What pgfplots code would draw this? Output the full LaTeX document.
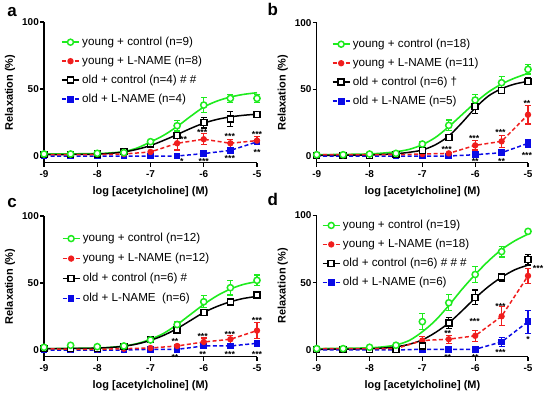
\documentclass[border=0pt]{standalone}
\usepackage{fontspec}
\setmainfont{Liberation Sans}
\usepackage{pgfplots}
\pgfplotsset{compat=1.18}
\definecolor{cg}{RGB}{30,235,30}
\definecolor{cr}{RGB}{240,30,30}
\definecolor{cb}{RGB}{10,10,230}
\tikzset{st/.style={font=\bfseries\fontsize{8.8}{9}\selectfont, inner sep=0pt, anchor=base, yshift=-5bp},
  plab/.style={font=\bfseries\fontsize{17}{19}\selectfont, inner sep=0pt, anchor=base}}
\pgfplotsset{
 panel/.style={
  scale only axis, width=213bp, height=140.7bp,
  xmin=-9, xmax=-5, ymin=-5, ymax=100,
  axis x line*=bottom, axis y line*=left,
  axis line style={line width=1.2bp, -},
  xtick={-9,-8,-7,-6,-5}, xticklabels={-9,-8,-7,-6,-5},
  ytick={0,50,100}, yticklabels={0,50,100},
  minor tick num=0,
  tick align=outside, major tick length=4bp,
  tick style={line width=1.2bp, black},
  ticklabel style={font=\bfseries\fontsize{10}{12}\selectfont},
  xticklabel style={inner sep=1bp, yshift=-3bp},
  yticklabel style={inner sep=1bp},
  xlabel={log [acetylcholine] (M)}, ylabel={Relaxation (\%)},
  label style={font=\bfseries\fontsize{11}{13}\selectfont},
  xlabel style={at={(rel axis cs:0.5,0)}, anchor=center, yshift=-29bp},
  ylabel style={at={(rel axis cs:0,0.5)}, anchor=center, yshift=34bp},
  clip=false,
  legend style={draw=none, fill=none, font=\fontsize{11.7}{13}\selectfont, anchor=north west, inner sep=0pt, row sep=8bp,
    nodes={inner ysep=0pt, inner xsep=2.5bp, text height=8.5bp, text depth=2.5bp}},
  legend cell align=left,
 },
 gc/.style={forget plot, only marks, mark=*, mark size=3.1bp, mark options={draw=cg, fill=white, line width=1.5bp},
   error bars/.cd, y dir=both, y explicit, error bar style={cg, line width=1.2bp}, error mark options={rotate=90, mark size=3bp, cg, line width=1.2bp}},
 bc/.style={forget plot, only marks, mark=square*, mark size=3bp, mark options={draw=black, fill=white, line width=1.5bp},
   error bars/.cd, y dir=both, y explicit, error bar style={black, line width=1.2bp}, error mark options={rotate=90, mark size=3bp, black, line width=1.2bp}},
 rl/.style={forget plot, cr, line width=1.5bp, dash pattern=on 4bp off 2.5bp, mark=*, mark size=2.4bp, mark options={solid, fill=cr, draw=cr},
   error bars/.cd, y dir=both, y explicit, error bar style={cr, solid, line width=1.2bp}, error mark options={rotate=90, mark size=3bp, cr, solid, line width=1.2bp}},
 bl/.style={forget plot, cb, line width=1.5bp, dash pattern=on 4bp off 2.5bp, mark=square*, mark size=2.6bp, mark options={solid, fill=cb, draw=cb},
   error bars/.cd, y dir=both, y explicit, error bar style={cb, solid, line width=1.2bp}, error mark options={rotate=90, mark size=3bp, cb, solid, line width=1.2bp}},
 gcurve/.style={forget plot, cg, line width=1.6bp, smooth, no markers},
 bcurve/.style={forget plot, black, line width=1.5bp, smooth, no markers},
 lg/.style={cg, line width=1.5bp, mark=*, mark size=3bp, mark options={fill=white}},
 lr/.style={cr, line width=1.5bp, dash pattern=on 4bp off 2.5bp, mark=*, mark size=2.4bp, mark options={solid, fill=cr}},
 lk/.style={black, line width=1.5bp, mark=square*, mark size=3bp, mark options={fill=white}},
 lb/.style={cb, line width=1.5bp, dash pattern=on 4bp off 2.5bp, mark=square*, mark size=2.6bp, mark options={solid, fill=cb}},
}
\begin{document}
\begin{tikzpicture}[x=1bp,y=1bp]
\useasboundingbox (0,0) rectangle (550,393);
\node[plab] at (12,376.3) {a};
\node[plab] at (272.7,378) {b};
\node[plab] at (12,186) {c};
\node[plab] at (272.7,187.3) {d};
% ---------- panel a
\begin{axis}[panel, at={(44bp,230.3bp)}, anchor=south west,
  legend style={at={(rel axis cs:0.08,0.897)}}]
\addlegendimage{lg}
\addlegendimage{lr}
\addlegendimage{lk}
\addlegendimage{lb}
\legend{young + control (n=9), young + L-NAME (n=8), old + control (n=4) \# \#, old + L-NAME (n=4)}
\addplot[gcurve] coordinates {(-9,1.5) (-8.5,1.6) (-8,1.8) (-7.75,2.3) (-7.5,3.3) (-7.25,6) (-7,10.5) (-6.75,15.5) (-6.5,22) (-6.25,29.5) (-6,36.5) (-5.75,41) (-5.5,44) (-5.25,46) (-5,47.2)};
\addplot[bcurve] coordinates {(-9,1) (-8.5,1.1) (-8,1.4) (-7.75,2) (-7.5,3) (-7.25,5) (-7,7.8) (-6.75,11.7) (-6.5,16) (-6.25,20.5) (-6,24.5) (-5.75,27.3) (-5.5,29.2) (-5.25,30.4) (-5,31.2)};
\node[st] at (axis cs:-6.41,13.7) {***};
\node[st] at (axis cs:-6.41,-2.5) {*};
\node[st] at (axis cs:-6.03,19.4) {***};
\node[st] at (axis cs:-6.0,-2.5) {***};
\node[st] at (axis cs:-5.51,15.7) {***};
\node[st] at (axis cs:-5.51,-0.5) {***};
\node[st] at (axis cs:-5.0,17.4) {***};
\node[st] at (axis cs:-5.0,4) {**};
\addplot[bl] coordinates {(-9,0) +- (0,0) (-8.5,0) +- (0,0) (-8,0) +- (0,0) (-7.5,0) +- (0,0) (-7,0) +- (0,0) (-6.5,0) +- (0,0) (-6,1.8) +- (0,0.5) (-5.5,4.2) +- (0,1) (-5,10.5) +- (0,2)};
\addplot[rl] coordinates {(-9,1) +- (0,0.3) (-8.5,1) +- (0,0.3) (-8,1) +- (0,0.3) (-7.5,1.5) +- (0,0.3) (-7,3) +- (0,0.8) (-6.5,9.5) +- (0,5) (-6,12.5) +- (0,4) (-5.5,9.5) +- (0,3) (-5,11.5) +- (0,3)};
\addplot[bc] coordinates {(-9,1) +- (0,0.3) (-8.5,1) +- (0,0.3) (-8,1.5) +- (0,0.3) (-7.5,3.2) +- (0,0.5) (-7,9) +- (0,1) (-6.5,15.4) +- (0,1.5) (-6,24.9) +- (0,4) (-5.5,27.6) +- (0,5.5) (-5,30.8) +- (0,1.5)};
\addplot[gc] coordinates {(-9,1.5) +- (0,0.5) (-8.5,1.5) +- (0,0.5) (-8,2) +- (0,0.5) (-7.5,2.5) +- (0,0.5) (-7,10.7) +- (0,1.5) (-6.5,22.6) +- (0,4) (-6,38) +- (0,5.5) (-5.5,43) +- (0,3) (-5,43) +- (0,3)};
\end{axis}
% ---------- panel b
\begin{axis}[panel, at={(316.7bp,230.3bp)}, anchor=south west, width=211.3bp, height=140bp,
  legend style={at={(rel axis cs:0.071,0.887)}}]
\addlegendimage{lg}
\addlegendimage{lr}
\addlegendimage{lk}
\addlegendimage{lb}
\legend{young + control (n=18), young + L-NAME (n=11), old + control (n=6) †, old + L-NAME (n=5)}
\addplot[gcurve] coordinates {(-9,1) (-8.5,1.2) (-8,1.6) (-7.75,2.2) (-7.5,3.2) (-7.25,5) (-7,8.5) (-6.75,14) (-6.5,22) (-6.25,31) (-6,40) (-5.75,48) (-5.5,54) (-5.25,58.5) (-5,62)};
\addplot[bcurve] coordinates {(-9,0.5) (-8.5,0.6) (-8,0.8) (-7.75,1.2) (-7.5,1.7) (-7.25,2.8) (-7,4.5) (-6.75,8.5) (-6.5,15) (-6.25,25) (-6,36) (-5.75,45) (-5.5,50.5) (-5.25,54) (-5,56)};
\node[st] at (axis cs:-6.54,6.25) {***};
\node[st] at (axis cs:-6.02,14.5) {***};
\node[st] at (axis cs:-6.0,-2.5) {**};
\node[st] at (axis cs:-5.52,19.5) {***};
\node[st] at (axis cs:-5.5,-2.5) {**};
\node[st] at (axis cs:-5.02,41) {**};
\node[st] at (axis cs:-5.02,2) {***};
\addplot[bl] coordinates {(-9,0) +- (0,0) (-8.5,0) +- (0,0) (-8,0) +- (0,0) (-7.5,0) +- (0,0) (-7,0) +- (0,0) (-6.5,0) +- (0,0) (-6,1) +- (0,0.5) (-5.5,2.5) +- (0,0.8) (-5,9.5) +- (0,3)};
\addplot[rl] coordinates {(-9,1) +- (0,0.3) (-8.5,1) +- (0,0.3) (-8,1) +- (0,0.3) (-7.5,1) +- (0,0.3) (-7,1.5) +- (0,0.5) (-6.5,2) +- (0,0.8) (-6,8) +- (0,3.5) (-5.5,11) +- (0,4.5) (-5,31) +- (0,7)};
\addplot[bc] coordinates {(-9,0.5) +- (0,0.3) (-8.5,0.5) +- (0,0.3) (-8,0.5) +- (0,0.3) (-7.5,1) +- (0,0.3) (-7,4) +- (0,1) (-6.5,14) +- (0,2) (-6,37) +- (0,5) (-5.5,49) +- (0,2) (-5,56) +- (0,2.5)};
\addplot[gc] coordinates {(-9,1) +- (0,0.5) (-8.5,1) +- (0,0.5) (-8,1.5) +- (0,0.5) (-7.5,2) +- (0,0.5) (-7,9) +- (0,1.5) (-6.5,23) +- (0,4) (-6,42) +- (0,4) (-5.5,55) +- (0,4.5) (-5,65) +- (0,3.5)};
\end{axis}
% ---------- panel c
\begin{axis}[panel, at={(44bp,36.3bp)}, anchor=south west,
  legend style={at={(rel axis cs:0.083,0.88)}, row sep=9bp}]
\addlegendimage{lg}
\addlegendimage{lr}
\addlegendimage{lk}
\addlegendimage{lb}
\legend{young + control (n=12), young + L-NAME (n=12), old + control (n=6) \#, old + L-NAME\ \ (n=6)}
\addplot[gcurve] coordinates {(-9,1) (-8.5,1.2) (-8,1.5) (-7.75,2) (-7.5,3) (-7.25,4.8) (-7,8) (-6.75,12.5) (-6.5,19) (-6.25,26.5) (-6,34) (-5.75,40.5) (-5.5,45.5) (-5.25,49) (-5,51)};
\addplot[bcurve] coordinates {(-9,1) (-8.5,1.1) (-8,1.4) (-7.75,1.9) (-7.5,2.8) (-7.25,4.5) (-7,7.2) (-6.75,11) (-6.5,16) (-6.25,22) (-6,28) (-5.75,32.5) (-5.5,36) (-5.25,38.5) (-5,40)};
\node[st] at (axis cs:-6.54,7.5) {**};
\node[st] at (axis cs:-6.54,-4) {**};
\node[st] at (axis cs:-6.02,11.7) {***};
\node[st] at (axis cs:-6.02,-2) {**};
\node[st] at (axis cs:-5.51,13.4) {***};
\node[st] at (axis cs:-5.51,-2) {***};
\node[st] at (axis cs:-5.0,23.4) {***};
\node[st] at (axis cs:-5.0,-1.5) {***};
\addplot[bl] coordinates {(-9,0) +- (0,0) (-8.5,0) +- (0,0) (-8,0) +- (0,0) (-7.5,0) +- (0,0) (-7,0.5) +- (0,0.3) (-6.5,0.5) +- (0,0.5) (-6,3) +- (0,0.8) (-5.5,3) +- (0,0.8) (-5,5) +- (0,1)};
\addplot[rl] coordinates {(-9,1) +- (0,0.3) (-8.5,0.5) +- (0,0.3) (-8,0.5) +- (0,0.3) (-7.5,1) +- (0,0.3) (-7,1.5) +- (0,0.5) (-6.5,3) +- (0,1) (-6,6) +- (0,3) (-5.5,8) +- (0,3) (-5,14.5) +- (0,6)};
\addplot[bc] coordinates {(-9,1) +- (0,0.3) (-8.5,1) +- (0,0.3) (-8,1) +- (0,0.3) (-7.5,2.5) +- (0,0.3) (-7,8) +- (0,1) (-6.5,15) +- (0,1.5) (-6,28) +- (0,2) (-5.5,36) +- (0,1.5) (-5,41) +- (0,1.5)};
\addplot[gc] coordinates {(-9,2) +- (0,0.5) (-8.5,3.5) +- (0,0.5) (-8,2.5) +- (0,0.5) (-7.5,3) +- (0,0.5) (-7,7.5) +- (0,1) (-6.5,19) +- (0,2) (-6,36) +- (0,4.5) (-5.5,46.5) +- (0,5.5) (-5,52) +- (0,4)};
\end{axis}
% ---------- panel d
\begin{axis}[panel, at={(316.7bp,36.3bp)}, anchor=south west, width=211.3bp, height=141.5bp,
  legend style={at={(rel axis cs:0.024,0.968)}}]
\addlegendimage{lg}
\addlegendimage{lr}
\addlegendimage{lk}
\addlegendimage{lb}
\legend{young + control (n=19), young + L-NAME (n=18), old + control (n=6) \# \# \#, old + L-NAME (n=6)}
\addplot[gcurve] coordinates {(-9,1) (-8.5,1.2) (-8,1.6) (-7.75,2.3) (-7.5,3.7) (-7.25,7) (-7,13.5) (-6.75,22) (-6.5,33) (-6.25,45) (-6,56) (-5.75,66) (-5.5,74.5) (-5.25,81) (-5,86)};
\addplot[bcurve] coordinates {(-9,0.5) (-8.5,0.6) (-8,0.9) (-7.75,1.4) (-7.5,2.3) (-7.25,4.2) (-7,7.5) (-6.75,13) (-6.5,20) (-6.25,29) (-6,38.5) (-5.75,47) (-5.5,54) (-5.25,59.5) (-5,63)};
\node[st] at (axis cs:-6.52,13.4) {**};
\node[st] at (axis cs:-6.52,-4) {**};
\node[st] at (axis cs:-6.01,22.8) {***};
\node[st] at (axis cs:-6.0,-4) {**};
\node[st] at (axis cs:-5.52,34) {***};
\node[st] at (axis cs:-5.52,-0.7) {***};
\node[st] at (axis cs:-4.81,61.6) {***};
\node[st] at (axis cs:-5.0,9.2) {*};
\addplot[bl] coordinates {(-9,0) +- (0,0) (-8.5,0) +- (0,0) (-8,0) +- (0,0) (-7.5,0) +- (0,0) (-7,0.5) +- (0,0.3) (-6.5,0.5) +- (0,0.3) (-6,0.5) +- (0,0.3) (-5.5,6) +- (0,3.5) (-5,21) +- (0,8.5)};
\addplot[rl] coordinates {(-9,1) +- (0,0.3) (-8.5,1) +- (0,0.3) (-8,1) +- (0,0.3) (-7.5,1) +- (0,0.3) (-7,7) +- (0,3) (-6.5,8) +- (0,3) (-6,10.5) +- (0,4) (-5.5,25) +- (0,7) (-5,55) +- (0,5.5)};
\addplot[bc] coordinates {(-9,0.5) +- (0,0.3) (-8.5,0.5) +- (0,0.3) (-8,0.5) +- (0,0.3) (-7.5,0.5) +- (0,0.3) (-7,3) +- (0,1) (-6.5,20) +- (0,4) (-6,39) +- (0,5.5) (-5.5,54) +- (0,3) (-5,67) +- (0,4)};
\addplot[gc] coordinates {(-9,1) +- (0,0.5) (-8.5,1) +- (0,0.5) (-8,2) +- (0,0.5) (-7.5,3.5) +- (0,0.5) (-7,21) +- (0,6) (-6.5,35) +- (0,6) (-6,56) +- (0,6) (-5.5,73) +- (0,4) (-5,88) +- (0,1)};
\end{axis}
\end{tikzpicture}
\end{document}
